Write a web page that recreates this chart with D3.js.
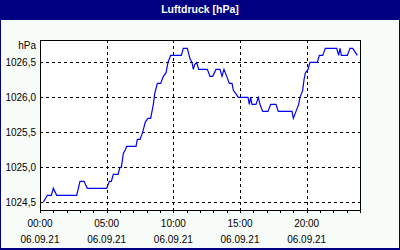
<!DOCTYPE html>
<html>
<head>
<meta charset="utf-8">
<script src="https://cdn.jsdelivr.net/npm/d3@7"></script>
<style>
  body { margin: 0; background: #fff; }
  text { font-family: "Liberation Sans", Arial, sans-serif; }
</style>
</head>
<body>
<div id="chart"></div>
<script>
// time of day in hours (06.09.21)
var hours = [0.25, 0.55, 0.85, 1.0, 1.25, 2.75, 3.0, 3.3, 3.55, 5.0,
  5.2, 5.35, 5.5, 5.85, 6.0, 6.1, 6.25, 6.4, 6.5, 7.2,
  7.3, 7.5, 7.7, 7.9, 8.1, 8.3, 8.5, 8.6, 8.8, 9.05,
  9.25, 9.45, 9.6, 9.8, 10.6, 10.75, 11.05, 11.25, 11.4, 11.5,
  11.6, 11.75, 11.9, 12.55, 12.75, 12.95, 13.2, 13.5, 13.65, 13.8,
  14.0, 14.2, 14.4, 14.5, 14.7, 14.87, 15.6, 15.7, 15.8, 15.9,
  16.2, 16.37, 16.5, 16.7, 17.1, 17.3, 17.7, 17.87, 18.9, 19.0,
  19.2, 19.4, 19.5, 19.7, 19.8, 19.9, 20.1, 20.25, 20.8, 20.95,
  21.2, 21.4, 22.25, 22.4, 22.5, 22.6, 23.05, 23.25, 23.45, 23.8];

// air pressure in hPa
var pressure = [1024.5, 1024.6, 1024.6, 1024.7, 1024.6, 1024.6, 1024.8, 1024.8, 1024.7, 1024.7,
  1024.8, 1024.8, 1024.9, 1024.9, 1025.0, 1025.0, 1025.2, 1025.25, 1025.3, 1025.3,
  1025.4, 1025.4, 1025.5, 1025.65, 1025.7, 1025.7, 1025.9, 1026.05, 1026.2, 1026.2,
  1026.3, 1026.35, 1026.5, 1026.6, 1026.6, 1026.7, 1026.7, 1026.55, 1026.5, 1026.4,
  1026.47, 1026.5, 1026.4, 1026.4, 1026.3, 1026.3, 1026.4, 1026.4, 1026.3, 1026.4,
  1026.3, 1026.2, 1026.2, 1026.1, 1026.05, 1026.0, 1026.0, 1025.9, 1026.0, 1025.9,
  1025.9, 1026.0, 1025.9, 1025.8, 1025.8, 1025.9, 1025.9, 1025.8, 1025.8, 1025.7,
  1025.8, 1025.9, 1026.0, 1026.1, 1026.25, 1026.35, 1026.4, 1026.5, 1026.5, 1026.6,
  1026.6, 1026.7, 1026.7, 1026.6, 1026.7, 1026.6, 1026.6, 1026.7, 1026.7, 1026.6];

var yTicks = [1024.5, 1025.0, 1025.5, 1026.0, 1026.5];
var xTicks = [0, 5, 10, 15, 20];
var xTickLabels = ["00:00", "05:00", "10:00", "15:00", "20:00"];
var dateLabel = "06.09.21";
var title = "Luftdruck [hPa]";
var unit = "hPa";

var svgWidth = 400;
var svgHeight = 250;

var plot = { left: 40, right: 360, top: 40, bottom: 210 };

var svg = d3.select("#chart")
  .append("svg")
  .attr("width", svgWidth)
  .attr("height", svgHeight)
  .attr("shape-rendering", "crispEdges");

// frame and title bar
svg.append("rect")
  .attr("x", 0).attr("y", 0)
  .attr("width", svgWidth).attr("height", svgHeight)
  .attr("fill", "#000080");

svg.append("rect")
  .attr("x", 1).attr("y", 20)
  .attr("width", svgWidth - 2).attr("height", svgHeight - 22)
  .attr("fill", "#f8fcf8");

svg.append("text")
  .attr("x", svgWidth / 2)
  .attr("y", 13)
  .attr("text-anchor", "middle")
  .attr("font-size", "10.5px")
  .attr("font-weight", "bold")
  .attr("fill", "#fff")
  .text(title);

var xScale = d3.scaleLinear()
  .domain([0, 24])
  .range([plot.left, plot.right]);

var yScale = d3.scaleLinear()
  .domain([1024.39, 1026.82])
  .range([plot.bottom, plot.top]);

// plot background
svg.append("rect")
  .attr("x", plot.left).attr("y", plot.top)
  .attr("width", plot.right - plot.left)
  .attr("height", plot.bottom - plot.top)
  .attr("fill", "#fff");

// dashed grid
svg.selectAll(".hgrid")
  .data(yTicks)
  .enter()
  .append("line")
  .attr("x1", plot.left)
  .attr("x2", plot.right)
  .attr("y1", d => Math.round(yScale(d)) + 0.5)
  .attr("y2", d => Math.round(yScale(d)) + 0.5)
  .attr("stroke", "#000")
  .attr("stroke-dasharray", "3,3");

svg.selectAll(".vgrid")
  .data(xTicks.slice(1))
  .enter()
  .append("line")
  .attr("x1", d => Math.round(xScale(d)) + 0.5)
  .attr("x2", d => Math.round(xScale(d)) + 0.5)
  .attr("y1", plot.top)
  .attr("y2", plot.bottom)
  .attr("stroke", "#000")
  .attr("stroke-dasharray", "3,3");

// hourly ticks under the bottom axis
var bottomAxis = d3.axisBottom(xScale)
  .ticks(24)
  .tickSize(3)
  .tickFormat("");

svg.append("g")
  .attr("transform", `translate(0, ${plot.bottom})`)
  .call(bottomAxis)
  .call(g => g.select(".domain").remove());

// frame of the plot
svg.append("rect")
  .attr("x", plot.left + 0.5).attr("y", plot.top + 0.5)
  .attr("width", plot.right - plot.left)
  .attr("height", plot.bottom - plot.top)
  .attr("fill", "none")
  .attr("stroke", "#000");

// y labels
svg.selectAll(".ylabel")
  .data(yTicks)
  .enter()
  .append("text")
  .attr("x", 36)
  .attr("y", d => yScale(d) + 4)
  .attr("text-anchor", "end")
  .attr("font-size", "10px")
  .attr("fill", "#000")
  .text(d => d3.format(".1f")(d).replace(".", ","));

svg.append("text")
  .attr("x", 36)
  .attr("y", 49)
  .attr("text-anchor", "end")
  .attr("font-size", "10px")
  .text(unit);

// x labels
var xLabels = svg.selectAll(".xlabel")
  .data(xTicks)
  .enter()
  .append("g")
  .attr("transform", d => `translate(${xScale(d)}, 0)`);

xLabels.append("text")
  .attr("y", 227)
  .attr("text-anchor", "middle")
  .attr("font-size", "10px")
  .text((d, i) => xTickLabels[i]);

xLabels.append("text")
  .attr("y", 243)
  .attr("text-anchor", "middle")
  .attr("font-size", "10px")
  .text(dateLabel);

// pressure line
var line = d3.line()
  .x((d, i) => xScale(hours[i]))
  .y(d => yScale(d));

svg.append("path")
  .datum(pressure)
  .attr("d", line)
  .attr("fill", "none")
  .attr("stroke", "#0000ff")
  .attr("stroke-width", 1.2)
  .attr("shape-rendering", "auto");
</script>
</body>
</html>
